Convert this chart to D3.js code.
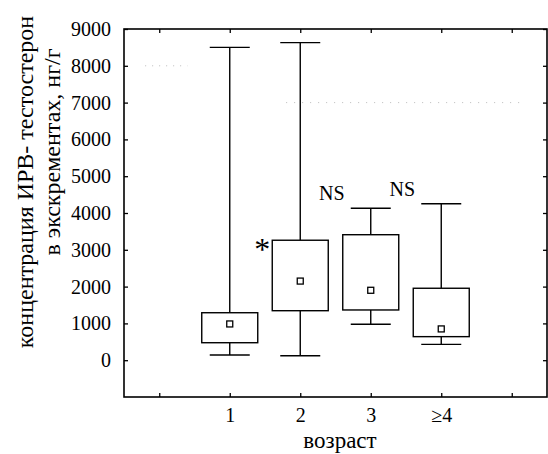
<!DOCTYPE html>
<html><head><meta charset="utf-8">
<script src="https://cdn.jsdelivr.net/npm/d3@7/dist/d3.min.js"></script>
<style>body{margin:0;background:#fff}svg{display:block}</style>
</head><body><svg id="c" width="548" height="454"></svg>
<script>
const categories = ["1", "2", "3", "≥4"];
const catPos = [1, 2, 3, 4];
const whiskerMin = [140, 120, 975, 430];
const boxLow = [475, 1345, 1365, 640];
const medians = [985, 2150, 1900, 850];
const boxHigh = [1290, 3260, 3410, 1955];
const whiskerMax = [8500, 8630, 4130, 4250];
const yTicks = [0, 1000, 2000, 3000, 4000, 5000, 6000, 7000, 8000, 9000];
const xTicks = [0, 1, 2, 3, 4, 5];
const annotations = [{cat: 2, text: "*"}, {cat: 3, text: "NS"}, {cat: 4, text: "NS"}];

const FONT = "'Liberation Serif', 'DejaVu Serif', 'Times New Roman', serif";
const svg = d3.select("#c").style("font-family", FONT);
const L = 124, R = 547, T = 29, B = 397;
const x = d3.scaleLinear().domain([-0.5, 5.5]).range([L, R]);
const y = d3.scaleLinear().domain([-1000, 9000]).range([B, T]);

// faint dotted scan lines
svg.append("line").attr("x1", x(-0.2)).attr("x2", x(0.4)).attr("y1", y(8000)).attr("y2", y(8000))
  .attr("stroke", "#bbb").attr("stroke-width", 1).attr("stroke-dasharray", "1,6");
svg.append("line").attr("x1", x(1.8)).attr("x2", x(5.2)).attr("y1", y(7000)).attr("y2", y(7000))
  .attr("stroke", "#bbb").attr("stroke-width", 1).attr("stroke-dasharray", "1,7");

// frame
svg.append("rect").attr("x", L).attr("y", T).attr("width", R - L).attr("height", B - T)
  .attr("fill", "none").attr("stroke", "#000").attr("stroke-width", 1.6);

const fmtX = d => { const i = catPos.indexOf(d); return i >= 0 ? categories[i] : ""; };
const ax = (g) => {
  g.attr("font-family", null).attr("font-size", null);
  g.select(".domain").remove();
  g.selectAll("line").attr("stroke", "#000").attr("stroke-width", 1.3);
  g.selectAll("text").style("font-family", FONT).style("font-size", "20px").attr("fill", "#000");
};

svg.append("g").attr("transform", `translate(0,${B})`)
  .call(d3.axisBottom(x).tickValues(xTicks).tickFormat(fmtX).tickSize(-4).tickPadding(11)).call(ax);
svg.append("g").attr("transform", `translate(0,${T})`)
  .call(d3.axisTop(x).tickValues(xTicks).tickFormat("").tickSize(-4)).call(ax);
svg.append("g").attr("transform", `translate(${L},0)`)
  .call(d3.axisLeft(y).tickValues(yTicks).tickFormat(d3.format("d")).tickSize(-4).tickPadding(13)).call(ax);
svg.append("g").attr("transform", `translate(${R},0)`)
  .call(d3.axisRight(y).tickValues(yTicks).tickFormat("").tickSize(-4)).call(ax);

// boxes
const bw = 56, cw = 40;
const g = svg.append("g").attr("stroke", "#000").attr("stroke-width", 1.4).attr("fill", "none");
catPos.forEach((c, i) => {
  const cx = x(c);
  g.append("line").attr("x1", cx).attr("x2", cx).attr("y1", y(boxHigh[i])).attr("y2", y(whiskerMax[i]));
  g.append("line").attr("x1", cx).attr("x2", cx).attr("y1", y(boxLow[i])).attr("y2", y(whiskerMin[i]));
  g.append("line").attr("x1", cx - cw / 2).attr("x2", cx + cw / 2).attr("y1", y(whiskerMax[i])).attr("y2", y(whiskerMax[i]));
  g.append("line").attr("x1", cx - cw / 2).attr("x2", cx + cw / 2).attr("y1", y(whiskerMin[i])).attr("y2", y(whiskerMin[i]));
  g.append("rect").attr("x", cx - bw / 2).attr("width", bw).attr("y", y(boxHigh[i])).attr("height", y(boxLow[i]) - y(boxHigh[i])).attr("fill", "#fff");
  g.append("rect").attr("x", cx - 3).attr("y", y(medians[i]) - 3).attr("width", 6).attr("height", 6).attr("fill", "#fff").attr("stroke-width", 1.3);
});

// annotations
annotations.forEach(a => {
  const i = catPos.indexOf(a.cat);
  const cx = x(a.cat);
  if (a.text === "*") {
    svg.append("text").attr("x", cx - bw / 2 - 10).attr("y", y(boxHigh[i]) + 20).attr("text-anchor", "middle").style("font-size", "32px").text(a.text);
  } else {
    svg.append("text").attr("x", cx - 39).attr("y", y(whiskerMax[i]) - 8).attr("text-anchor", "middle").style("font-size", "20px").text(a.text);
  }
});

// axis titles
svg.append("text").attr("transform", "translate(33,182) rotate(-90)").attr("text-anchor", "middle").style("font-size", "24px").text("концентрация ИРВ- тестостерон");
svg.append("text").attr("transform", "translate(60,152) rotate(-90)").attr("text-anchor", "middle").style("font-size", "24px").text("в экскрементах, нг/г");
svg.append("text").attr("x", 340).attr("y", 448).attr("text-anchor", "middle").style("font-size", "23px").text("возраст");
</script></body></html>
